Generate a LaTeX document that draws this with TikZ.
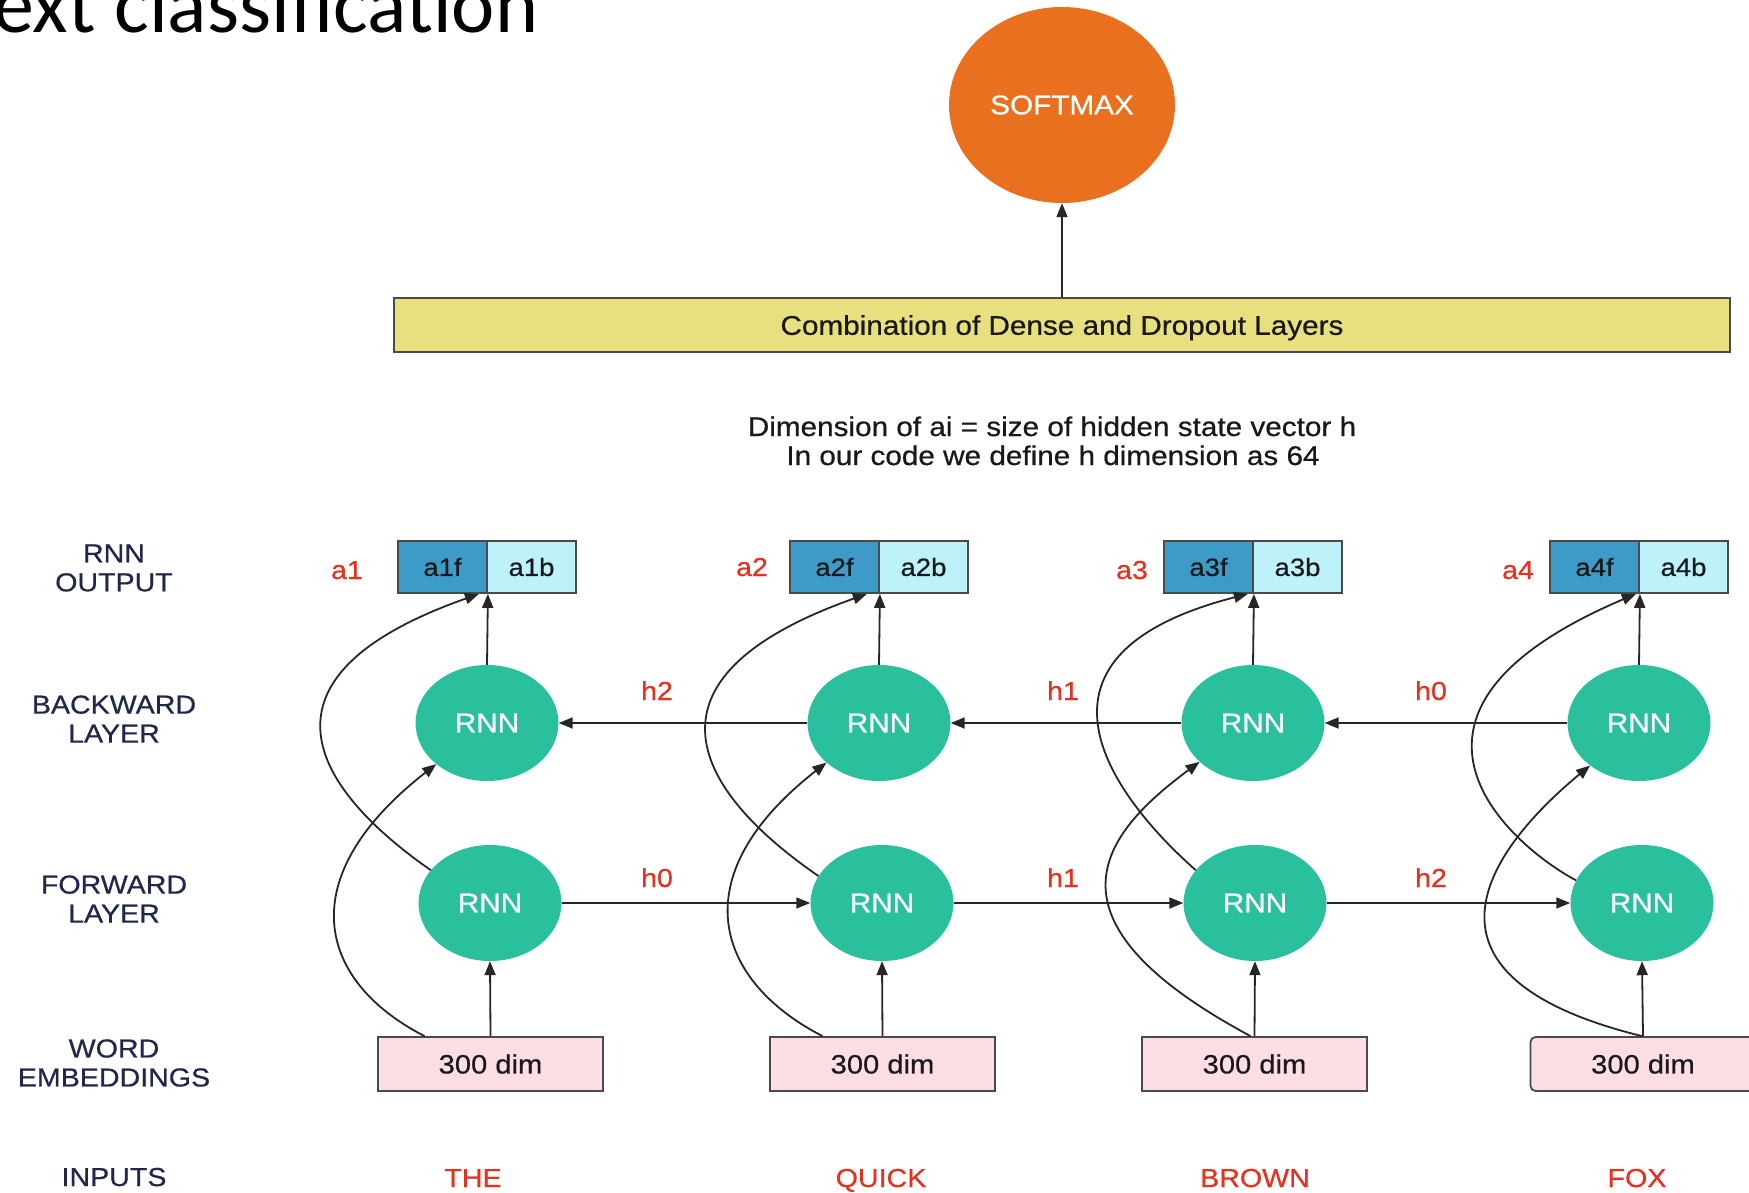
\documentclass[tikz,border=0pt]{standalone}
\usepackage{fontspec}
\usetikzlibrary{arrows.meta,calc,shapes.geometric}
\newfontfamily\hv[FakeStretch=1.1,FakeBold=0.6]{Liberation Sans}
\newfontfamily\titlefont{Carlito}
\definecolor{softorange}{HTML}{E8701F}
\definecolor{rnngreen}{HTML}{2BC09D}
\definecolor{cellfwd}{HTML}{3E9BC8}
\definecolor{cellbwd}{HTML}{BEF2FA}
\definecolor{embpink}{HTML}{FDDEE4}
\definecolor{denseyellow}{HTML}{E8E07E}
\definecolor{lblred}{HTML}{E8301E}
\definecolor{sidenavy}{HTML}{1E284B}
\definecolor{edgegray}{HTML}{4A4A4A}
\begin{document}
\begin{tikzpicture}[x=1pt,y=-1pt,
  arr/.style={draw=black!85,line width=1.8pt,-{Triangle[length=14pt,width=11pt]}},
  rnn/.style={ellipse,fill=rnngreen,minimum width=143pt,minimum height=116pt,inner sep=0pt,
    text=white,font=\hv\fontsize{27}{29}\selectfont},
  cellf/.style={rectangle,draw=edgegray,line width=1.8pt,fill=cellfwd,minimum width=89pt,minimum height=52pt,
    inner sep=0pt,text=black!90,font=\hv\fontsize{25}{27}\selectfont},
  cellb/.style={cellf,fill=cellbwd},
  embbox/.style={rectangle,draw=edgegray,line width=1.8pt,fill=embpink,minimum width=225pt,minimum height=54pt,
    inner sep=0pt,text=black!90,font=\hv\fontsize{26.5}{28}\selectfont},
  redlbl/.style={text=lblred,inner sep=0pt,anchor=base,font=\hv\fontsize{26}{28}\selectfont},
  sidelbl/.style={text=sidenavy,inner sep=0pt,align=center,font=\hv\fontsize{26}{29}\selectfont},
  plaintxt/.style={text=black!90,inner sep=0pt,anchor=base,font=\hv\fontsize{27}{29}\selectfont}]

\useasboundingbox (0,0) rectangle (1749,1192);
\fill[white] (0,0) rectangle (1749,1192);

% heading, partly outside the page
\node[anchor=base west,inner sep=0pt,font=\titlefont\fontsize{82}{90}\selectfont] (title) at (-7,32) {ext classification};

% classifier head
\node[ellipse,fill=softorange,minimum width=226pt,minimum height=196pt,inner sep=0pt,
  text=white,font=\hv\fontsize{27}{29}\selectfont] (soft) at (1062,105) {SOFTMAX};
\node[rectangle,draw=edgegray,line width=1.8pt,fill=denseyellow,minimum width=1336pt,minimum height=54pt,
  inner sep=0pt,text depth=0pt,text=black!90,font=\hv\fontsize{27}{29}\selectfont] (dense) at (1062,325)
  {Combination of Dense and Dropout Layers};
\draw[arr] (dense.north) -- (soft.south);

\node[plaintxt] (dim1) at (1052,436) {Dimension of ai = size of hidden state vector h};
\node[plaintxt] (dim2) at (1053,465) {In our code we define h dimension as 64};

% row captions
\node[sidelbl] (capout) at (114,568) {RNN\\OUTPUT};
\node[sidelbl] (capbwd) at (114,719) {BACKWARD\\LAYER};
\node[sidelbl] (capfwd) at (114,899) {FORWARD\\LAYER};
\node[sidelbl] (capemb) at (114,1063) {WORD\\EMBEDDINGS};
\node[sidelbl,anchor=base] (capin) at (114,1186) {INPUTS};

% output cells
\node[cellf] (af1) at (442.5,567) {a1f};  \node[cellb] (ab1) at (531.5,567) {a1b};
\node[cellf] (af2) at (834.5,567) {a2f};  \node[cellb] (ab2) at (923.5,567) {a2b};
\node[cellf] (af3) at (1208.5,567) {a3f}; \node[cellb] (ab3) at (1297.5,567) {a3b};
\node[cellf] (af4) at (1594.5,567) {a4f}; \node[cellb] (ab4) at (1683.5,567) {a4b};

\node[redlbl] (la1) at (347,579) {a1};
\node[redlbl] (la2) at (752,576) {a2};
\node[redlbl] (la3) at (1132,579) {a3};
\node[redlbl] (la4) at (1518,579) {a4};

% backward and forward RNN cells
\node[rnn] (b1) at (487,723) {RNN};
\node[rnn] (b2) at (879,723) {RNN};
\node[rnn] (b3) at (1253,723) {RNN};
\node[rnn] (b4) at (1639,723) {RNN};
\node[rnn] (f1) at (490,903) {RNN};
\node[rnn] (f2) at (882,903) {RNN};
\node[rnn] (f3) at (1255,903) {RNN};
\node[rnn] (f4) at (1642,903) {RNN};

% embeddings
\node[embbox] (e1) at (490.5,1064) {300 dim};
\node[embbox] (e2) at (882.5,1064) {300 dim};
\node[embbox] (e3) at (1254.5,1064) {300 dim};
\node[embbox,rounded corners=5pt] (e4) at (1643,1064) {300 dim};

% input words
\node[redlbl] (w1) at (473,1187) {THE};
\node[redlbl] (w2) at (881,1187) {QUICK};
\node[redlbl] (w3) at (1255,1187) {BROWN};
\node[redlbl] (w4) at (1637,1187) {FOX};

% hidden state labels
\node[redlbl] (hb1) at (657,700) {h2};
\node[redlbl] (hb2) at (1063,700) {h1};
\node[redlbl] (hb3) at (1431,700) {h0};
\node[redlbl] (hf1) at (657,887) {h0};
\node[redlbl] (hf2) at (1063,887) {h1};
\node[redlbl] (hf3) at (1431,887) {h2};

% recurrent connections
\draw[arr] (f1.east) -- (f2.west);
\draw[arr] (f2.east) -- (f3.west);
\draw[arr] (f3.east) -- (f4.west);
\draw[arr] (b2.west) -- (b1.east);
\draw[arr] (b3.west) -- (b2.east);
\draw[arr] (b4.west) -- (b3.east);

% straight feeds
\foreach \i in {1,2,3,4}{
  \draw[arr] (e\i.north) -- (f\i.south);
  \draw[arr] (b\i.north) -- (af\i.south east);
}

% embeddings into the backward layer
\draw[arr] ($(e1.north)+(-66,0)$) .. controls ($(e1.north)+(-173,-55)$) and ($(b1.219)+(-146,114)$) .. (b1.219);
\draw[arr] ($(e2.north)+(-60,0)$) .. controls ($(e2.north)+(-167,-55)$) and ($(b2.217)+(-146,114)$) .. (b2.217);
\draw[arr] ($(e3.north)+(-4,0)$) .. controls ($(e3.north)+(-222,-117)$) and ($(b3.216)+(-97,72)$) .. (b3.216);
\draw[arr] ($(e4.north)+(-1,0)$) .. controls ($(e4.north)+(-265,-65)$) and ($(b4.221)+(-80,66)$) .. (b4.221);

% forward layer into the output cells
\draw[arr] (f1.151) .. controls ($(f1.151)+(-119,-83)$) and ($(af1.south east)+(-244,83)$) .. ($(af1.south east)+(-9,0)$);
\draw[arr] (f2.157) .. controls ($(f2.157)+(-122,-84)$) and ($(af2.south east)+(-253,85)$) .. ($(af2.south east)+(-13,0)$);
\draw[arr] (f3.151) .. controls ($(f3.151)+(-41,-36)$) and ($(af3.south east)+(-279,70)$) .. ($(af3.south east)+(-6,0)$);
\draw[arr] (f4.161) .. controls ($(f4.161)+(-59,-31)$) and ($(af4.south east)+(-289,121)$) .. ($(af4.south east)+(-4,0)$);

\end{tikzpicture}
\end{document}
